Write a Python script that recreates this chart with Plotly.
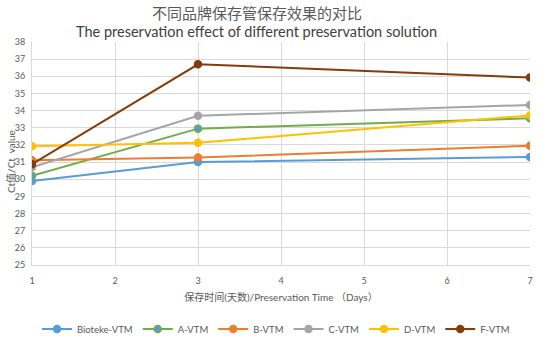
import plotly.graph_objects as go

days = [1, 3, 7]
series_names = ["Bioteke-VTM", "A-VTM", "B-VTM", "C-VTM", "D-VTM", "F-VTM"]
bioteke = [29.9, 31.0, 31.3]
a_vtm = [30.2, 32.95, 33.55]
b_vtm = [31.1, 31.27, 31.95]
c_vtm = [30.7, 33.7, 34.33]
d_vtm = [31.92, 32.12, 33.72]
f_vtm = [30.88, 36.7, 35.93]

values = [bioteke, a_vtm, b_vtm, c_vtm, d_vtm, f_vtm]
line_colors = ["#5b9bd5", "#70ad47", "#ed7d31", "#a5a5a5", "#ffc000", "#843c0c"]
marker_colors = ["#5b9bd5", "#5b9bd5", "#ed7d31", "#a5a5a5", "#ffc000", "#843c0c"]
marker_line_colors = ["#5b9bd5", "#70ad47", "#ed7d31", "#a5a5a5", "#ffc000", "#843c0c"]

FONT = "Lato, 'Noto Sans CJK SC', sans-serif"

fig = go.Figure()
for name, vals, lc, mc, mlc in zip(series_names, values, line_colors, marker_colors, marker_line_colors):
    fig.add_trace(go.Scatter(
        x=days, y=vals, name=name, mode="lines+markers",
        line=dict(color=lc, width=2),
        marker=dict(color=mc, size=7, line=dict(color=mlc, width=1.5)),
    ))

W, H = 555, 360
L, R, T, B = 32, 25, 42, 95
pw = W - L - R
ph = H - T - B

fig.update_layout(
    width=W, height=H,
    margin=dict(l=L, r=R, t=T, b=B),
    paper_bgcolor="white", plot_bgcolor="white",
    font=dict(family=FONT, color="#595959", size=10),
    showlegend=True,
    legend=dict(orientation="h", x=(276 - L) / pw, xanchor="center", y=(265 - 329) / ph, yanchor="middle",
                font=dict(size=9.5, color="#595959", family=FONT), itemwidth=30, tracegroupgap=0),
    xaxis=dict(range=[1, 7], dtick=1, tick0=1, showgrid=True, gridcolor="#d9d9d9", gridwidth=1,
               showline=True, linecolor="#d9d9d9", zeroline=False, ticks="",
               tickfont=dict(size=9, color="#595959"), ticklabelstandoff=7,
               title=dict(text="保存时间(天数)/Preservation Time （Days）", font=dict(size=10, color="#595959"), standoff=9)),
    yaxis=dict(range=[25, 38], dtick=1, showgrid=True, gridcolor="#d9d9d9", gridwidth=1,
               showline=True, linecolor="#d9d9d9", zeroline=False, ticks="",
               tickfont=dict(size=9, color="#595959"), ticklabelstandoff=4),
    annotations=[
        dict(text="不同品牌保存管保存效果的对比", xref="paper", yref="paper",
             x=(257 - L) / pw, y=(H - B - 12) / ph, xanchor="center", yanchor="middle",
             showarrow=False, font=dict(size=15, color="#595959", family="'Noto Sans CJK SC', sans-serif")),
        dict(text="The preservation effect of different preservation solution", xref="paper", yref="paper",
             x=(256 - L) / pw, y=(H - B - 31) / ph, xanchor="center", yanchor="middle",
             showarrow=False, font=dict(size=14.5, color="#404040", family=FONT)),
        dict(text="Ct值/Ct  value", xref="paper", yref="paper", textangle=-90,
             x=(11 - L) / pw, y=(H - B - 162) / ph, xanchor="center", yanchor="middle",
             showarrow=False, font=dict(size=10, color="#595959", family=FONT)),
    ],
)

fig.write_html("out.html", config={"displayModeBar": False},
               post_script="document.body.style.margin='0px';")
